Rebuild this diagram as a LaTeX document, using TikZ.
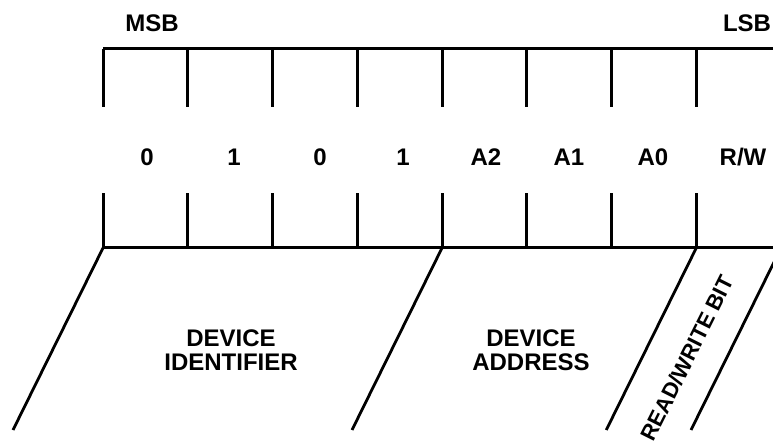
\documentclass[tikz,border=0pt]{standalone}
\usepackage{fontspec}
\setmainfont{Liberation Sans}
\begin{document}
\begin{tikzpicture}[x=1pt,y=-1pt,
        bitline/.style={line width=3pt},
        slant/.style={line width=2.8pt},
        lbl/.style={font=\fontsize{24}{24}\selectfont\bfseries, inner sep=0pt, align=center}]
        \useasboundingbox (0,0) rectangle (773,446);
        \clip (0,0) rectangle (773,446);
        % Register Frame
        \coordinate (tl) at (103,49);
        \coordinate (tr) at (800,49);
        \coordinate (bl) at (103,248);
        \coordinate (br) at (800,248);
        \draw[bitline] (tl) -- (tr);
        \draw[bitline] (bl) -- (br);
        \foreach \i in {0,...,8} {
            \coordinate (t\i) at (103+84.75*\i,49);
            \coordinate (b\i) at (103+84.75*\i,248);
            \draw[bitline] (t\i) -- ++(0,58);
            \draw[bitline] (b\i) -- ++(0,-55);
        }
        % Ends
        \node[lbl] (msb) at (152,23) {MSB};
        \node[lbl] (lsb) at (747,23) {LSB};
        % Bit Values
        \node[lbl] (bit7) at (147,157) {0};
        \node[lbl] (bit6) at (234,157) {1};
        \node[lbl] (bit5) at (320,157) {0};
        \node[lbl] (bit4) at (403,157) {1};
        \node[lbl] (bit3) at (486,157) {A2};
        \node[lbl] (bit2) at (569,157) {A1};
        \node[lbl] (bit1) at (653,157) {A0};
        \node[lbl] (bit0) at (743,157) {R/W};
        %
        % Field Brackets:
        \draw[slant] (b0) -- ++(-90,182);
        \draw[slant] (b4) -- ++(-90,182);
        \draw[slant] (b7) -- ++(-90,182);
        \draw[slant] (b8) -- ++(-90,182);
        % Field Names
        \node[lbl] (ident) at (231,350) {DEVICE\\IDENTIFIER};
        \node[lbl] (addr) at (531,350) {DEVICE\\ADDRESS};
        \node[lbl, font=\fontsize{22}{22}\selectfont\bfseries, rotate=63.4] (rwbit) at (687,358) {READ/WRITE BIT};
\end{tikzpicture}
\end{document}
